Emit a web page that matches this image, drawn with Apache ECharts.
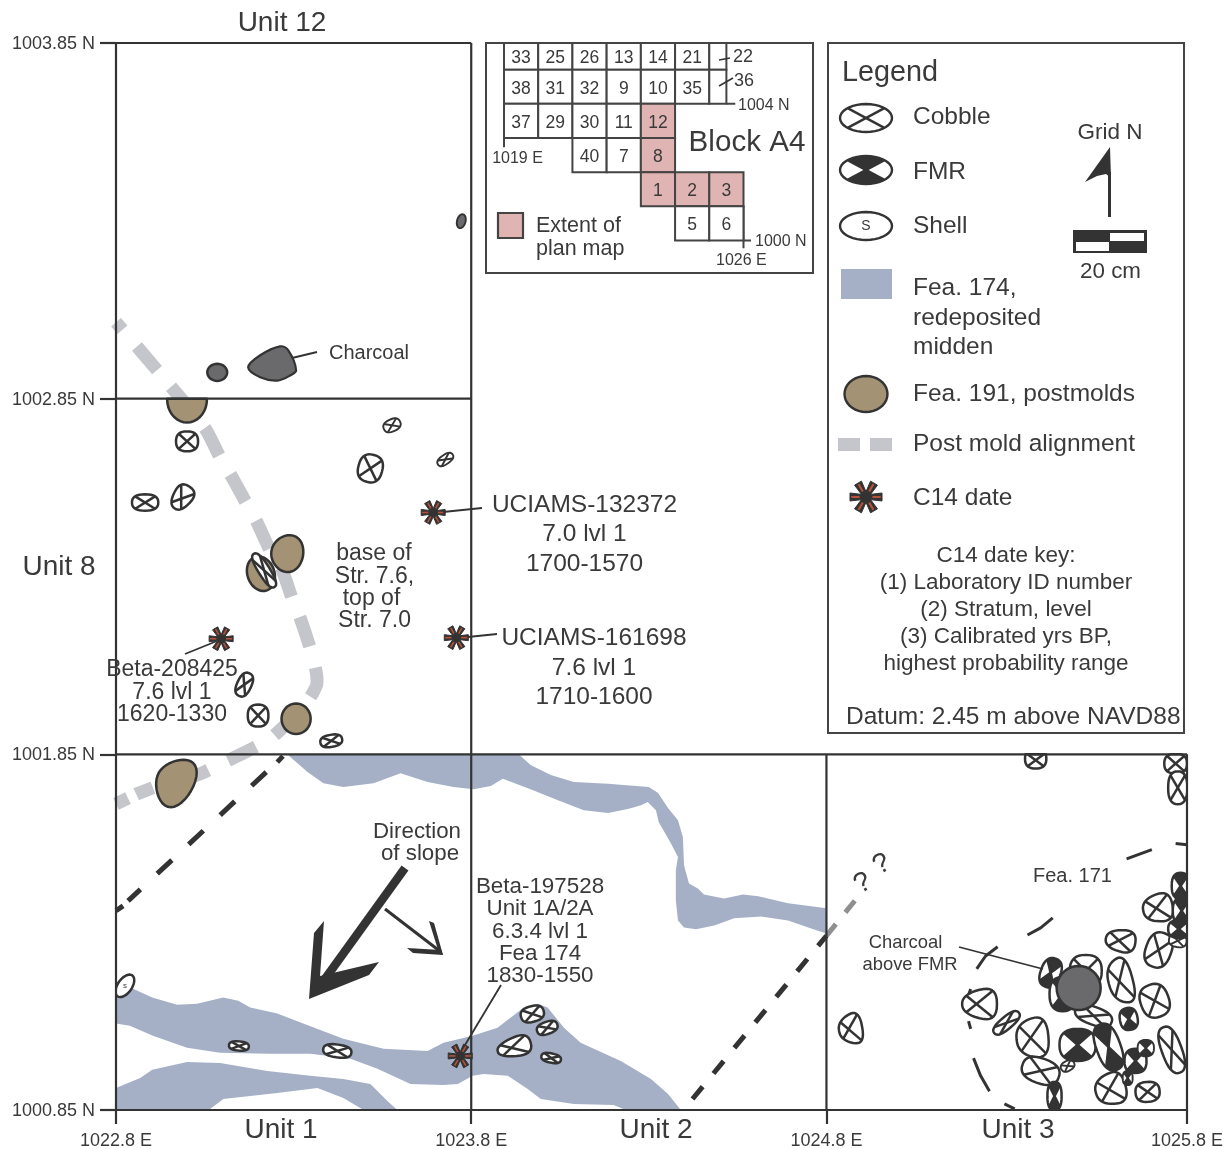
<!DOCTYPE html>
<html><head><meta charset="utf-8">
<style>html,body{margin:0;padding:0;background:#fff}#c{width:1231px;height:1149px}</style>
<script src="https://cdn.jsdelivr.net/npm/echarts@6/dist/echarts.min.js"></script>
</head><body><div id="c"></div>
<script>
// ---------- axis ticks ----------
var xTicks=[1022.8,1023.8,1024.8,1025.815];
var xTickLabels=['1022.8 E','1023.8 E','1024.8 E','1025.8 E'];
var yTicks=[1000.85,1001.85,1002.85,1003.85];
var yTickLabels=['1000.85 N','1001.85 N','1002.85 N','1003.85 N'];
// ---------- unit boundaries [E,N] ----------
var unitLines=[
 [[1022.8,1003.85],[1023.8,1003.85]],
 [[1022.8,1002.85],[1023.8,1002.85]],
 [[1022.8,1001.85],[1025.815,1001.85]],
 [[1022.8,1000.85],[1025.815,1000.85]],
 [[1022.8,1000.85],[1022.8,1003.85]],
 [[1023.8,1000.85],[1023.8,1003.85]],
 [[1024.8,1000.85],[1024.8,1001.85]],
 [[1025.815,1000.85],[1025.815,1001.85]]];
// ---------- Fea. 174 outlines [E,N] ----------
var fea174North=[[1023.282,1001.85],[1023.934,1001.85],[1023.967,1001.82],[1024.024,1001.792],[1024.089,1001.772],[1024.185,1001.767],[1024.30,1001.758],[1024.326,1001.741],[1024.354,1001.699],[1024.382,1001.665],[1024.396,1001.617],[1024.399,1001.538],[1024.413,1001.487],[1024.438,1001.473],[1024.455,1001.456],[1024.512,1001.445],[1024.565,1001.456],[1024.608,1001.451],[1024.692,1001.431],[1024.80,1001.417],[1024.80,1001.346],[1024.757,1001.36],[1024.692,1001.383],[1024.616,1001.394],[1024.54,1001.389],[1024.484,1001.369],[1024.433,1001.358],[1024.399,1001.363],[1024.382,1001.383],[1024.376,1001.439],[1024.376,1001.524],[1024.382,1001.561],[1024.362,1001.60],[1024.328,1001.659],[1024.32,1001.693],[1024.297,1001.716],[1024.278,1001.707],[1024.241,1001.696],[1024.185,1001.685],[1024.117,1001.693],[1024.044,1001.721],[1023.967,1001.752],[1023.889,1001.781],[1023.855,1001.761],[1023.807,1001.752],[1023.75,1001.758],[1023.677,1001.772],[1023.601,1001.797],[1023.525,1001.769],[1023.44,1001.758],[1023.384,1001.769],[1023.339,1001.80]];
var fea174South=[[1022.80,1001.163],[1022.848,1001.191],[1022.902,1001.166],[1022.972,1001.146],[1023.028,1001.149],[1023.102,1001.166],[1023.144,1001.157],[1023.178,1001.138],[1023.254,1001.121],[1023.327,1001.093],[1023.44,1001.05],[1023.553,1001.022],[1023.677,1001.016],[1023.722,1001.039],[1023.804,1001.059],[1023.874,1001.081],[1023.948,1001.138],[1023.987,1001.149],[1024.015,1001.138],[1024.061,1001.081],[1024.108,1001.039],[1024.221,1000.988],[1024.306,1000.937],[1024.354,1000.895],[1024.39,1000.85],[1024.235,1000.85],[1024.201,1000.864],[1024.089,1000.867],[1023.996,1000.881],[1023.959,1000.909],[1023.903,1000.946],[1023.835,1000.951],[1023.804,1000.946],[1023.762,1000.923],[1023.722,1000.92],[1023.629,1000.923],[1023.536,1000.966],[1023.46,1000.994],[1023.347,1001.008],[1023.234,1001.008],[1023.093,1001.011],[1023.0,1001.025],[1022.904,1001.059],[1022.839,1001.087],[1022.80,1001.093]];
var fea174Corner=[[1022.80,1000.912],[1022.868,1000.94],[1022.902,1000.963],[1023.0,1000.985],[1023.093,1000.982],[1023.226,1000.96],[1023.347,1000.946],[1023.44,1000.937],[1023.516,1000.923],[1023.564,1000.875],[1023.592,1000.85],[1023.497,1000.85],[1023.44,1000.884],[1023.367,1000.912],[1023.254,1000.898],[1023.102,1000.881],[1023.065,1000.853],[1022.80,1000.85]];
// ---------- post mold alignment and grid-line projections [E,N] ----------
var alignment=[[1022.80,1003.065],[1022.868,1002.986],[1022.952,1002.887],[1023.051,1002.766],[1023.093,1002.685],[1023.124,1002.634],[1023.166,1002.558],[1023.197,1002.502],[1023.234,1002.423],[1023.268,1002.367],[1023.296,1002.288],[1023.319,1002.232],[1023.347,1002.147],[1023.363,1002.085],[1023.366,1002.052],[1023.341,1002.001],[1023.31,1001.959],[1023.276,1001.931],[1023.234,1001.894],[1023.172,1001.86],[1023.101,1001.826],[1023.037,1001.795],[1022.972,1001.77]];
var alignmentTail=[[1022.904,1001.756],[1022.859,1001.739],[1022.80,1001.711]];
var wallWest=[[1023.223,1001.80],[1022.834,1001.438]];
var wallWestEnds=[[[1023.27,1001.845],[1023.254,1001.828]],[[1022.82,1001.424],[1022.80,1001.41]]];
var wallEast=[[1024.423,1000.881],[1024.80,1001.34]];
var wallEastInferred=[[1024.80,1001.34],[1024.887,1001.447]];
var fea171Arcs=[
 [[1025.645,1001.556],[1025.716,1001.582]],
 [[1025.783,1001.599],[1025.815,1001.596]],
 [[1025.366,1001.342],[1025.403,1001.362],[1025.437,1001.39]],
 [[1025.223,1001.247],[1025.248,1001.283],[1025.282,1001.309]],
 [[1025.206,1001.19],[1025.197,1001.165]],
 [[1025.2,1001.1],[1025.206,1001.078]],
 [[1025.214,1000.996],[1025.234,1000.946],[1025.259,1000.903]],
 [[1025.301,1000.867],[1025.33,1000.853]]];
// ---------- features: E, N, radius E (cm), radius N (cm), rotation deg, egg, cut N ----------
var postmolds=[
 [1023.0,1002.848,5.6,6.5,0,0,1002.85],
 [1023.282,1002.415,4.5,5.2,10,0.05,0],
 [1023.208,1002.358,3.8,5,-20,0,0],
 [1023.307,1001.95,4.1,4.3,0,0,0],
 [1022.966,1001.773,5.2,7,30,0.12,0]];
var charcoalBlob=[[1023.172,1002.938],[1023.206,1002.972],[1023.262,1002.997],[1023.285,1002.986],[1023.307,1002.93],[1023.29,1002.915],[1023.254,1002.901],[1023.206,1002.91]];
var charcoalSpots=[
 [1023.085,1002.924,2.8,2.4,0,0,0],
 [1023.772,1003.349,1.2,2,15,0,0]];
var charcoalOverFMR=[[1025.51,1001.193,6.2,6.2,0,0,0]];
var cobbles=[
 [1023.0,1002.73,3.1,2.8,0,0,0],[1023.577,1002.775,2.5,1.7,-25,0,0],[1023.516,1002.654,3.4,3.9,15,0,0],
 [1023.727,1002.679,2.5,1.3,-35,0,0],[1022.882,1002.558,3.7,2.3,0,0,0],[1022.986,1002.572,3.7,2.6,-55,0.1,0],
 [1023.217,1002.367,5.5,1.6,58,0,0],[1023.161,1002.046,3.5,2,-65,0,0],[1023.2,1001.959,2.9,3.1,0,0,0],
 [1023.406,1001.888,3.1,1.7,-10,0,0],[1023.146,1001.03,2.8,1.3,5,0,0],[1023.423,1001.016,4,1.8,8,0,0],
 [1023.972,1001.12,3.3,2.2,-15,0,0],[1024.014,1001.081,3,1.7,-20,0,0],[1023.921,1001.027,4.8,2.6,-15,0.15,0],
 [1024.025,1000.996,2.8,1.3,12,0,0],[1024.868,1001.078,3.3,4,-10,0.15,0],
 [1025.733,1001.418,4.2,3.8,-10,0.1,0],[1025.628,1001.326,4.2,3,8,0.1,0],[1025.735,1001.3,3.6,5,20,0,0],
 [1025.628,1001.213,3.4,6.2,-15,0.1,0],[1025.724,1001.157,4,4.7,-20,0,0],[1025.772,1001.019,2.8,6.8,-20,0,0],
 [1025.231,1001.148,4.9,4,0,0.15,0],[1025.307,1001.095,4.5,1.7,-40,0,0],[1025.38,1001.053,4.5,5.4,-5,0.1,0],
 [1025.403,1000.96,5.4,3.5,20,0,0],[1025.479,1000.974,2,1.4,-30,0,0],[1025.6,1000.909,4.3,4.3,-15,0.1,0],
 [1025.704,1000.901,3.4,2.8,-5,0,0],[1025.53,1001.241,4.5,4.5,0,0,0],[1025.552,1001.115,5.4,2.5,20,0,0],
 [1025.789,1001.326,2.5,1.8,10,0,0],[1025.389,1001.838,3,2.8,0,0,1001.85],[1025.783,1001.824,3.2,2.8,0,0,1001.85],
 [1025.789,1001.756,2.7,4.6,0,0,1001.85]];
var fmrStones=[
 [1025.651,1001.106,2.5,3.1,-10,0,0],[1025.507,1001.033,5.1,4.5,0,0,0],[1025.594,1001.027,3.4,6.8,-20,0,0],
 [1025.67,1000.988,3.1,3.4,0,0,0],[1025.699,1001.024,2.3,2.3,0,0,0],[1025.648,1000.94,1.4,2,0,0,0],
 [1025.442,1000.889,2,4,0,0,0],[1025.431,1001.236,2.8,4.2,20,0,0],[1025.465,1001.176,3.7,4.8,0,0,0],
 [1025.797,1001.48,2.5,3.7,0,0,0],[1025.8,1001.41,2.5,3.7,0,0,0],[1025.792,1001.359,3,2.5,0,0,0]];
var shells=[[1022.825,1001.199,3.6,2,-55,0,0]];
var c14Dates=[[1023.693,1002.53],[1023.758,1002.178],[1023.096,1002.175],[1023.769,1001.002]];
// ---------- Block A4 inset: label, E, N, width, height ----------
var blockCells=[
 ['33',1019,1005,1,.78],['25',1020,1005,1,.78],['26',1021,1005,1,.78],['13',1022,1005,1,.78],['14',1023,1005,1,.78],['21',1024,1005,1,.78],['',1025,1005,.5,.78],
 ['38',1019,1004,1,1],['31',1020,1004,1,1],['32',1021,1004,1,1],['9',1022,1004,1,1],['10',1023,1004,1,1],['35',1024,1004,1,1],['',1025,1004,.5,1],
 ['37',1019,1003,1,1],['29',1020,1003,1,1],['30',1021,1003,1,1],['11',1022,1003,1,1],['12',1023,1003,1,1],
 ['40',1021,1002,1,1],['7',1022,1002,1,1],['8',1023,1002,1,1],
 ['1',1023,1001,1,1],['2',1024,1001,1,1],['3',1025,1001,1,1],
 ['5',1024,1000,1,1],['6',1025,1000,1,1]];
var planMapCells=['12','8','1','2','3'];
var blockGuides=[
 [[1019,1003],[1019,1002.73]],[[1026,1001],[1026,999.77]],[[1026,1000],[1026.22,1000]],[[1025.5,1004],[1025.76,1004]]];
// ---------- text ----------
var unitNames=['Unit 12','Unit 8','Unit 1','Unit 2','Unit 3'];
var dateA=['UCIAMS-132372','7.0 lvl 1','1700-1570'];
var dateB=['UCIAMS-161698','7.6 lvl 1','1710-1600'];
var dateC=['Beta-208425','7.6 lvl 1','1620-1330'];
var dateD=['Beta-197528','Unit 1A/2A','6.3.4 lvl 1','Fea 174','1830-1550'];
var baseNote=['base of','Str. 7.6,','top of','Str. 7.0'];
var slopeNote=['Direction','of slope'];
var fmrNote=['Charcoal','above FMR'];
var legendKey=['C14 date key:','(1) Laboratory ID number','(2) Stratum, level','(3) Calibrated yrs BP,','highest probability range'];

var INK='#3a3a3a',LINE='#333333',BLUE='#a5b0c6',BROWN='#a39274',CHAR='#6a6a6d',GREY='#c4c6cb',PINK='#e0b4b2',RED='#b8533a',FONT='"Liberation Sans",Arial,sans-serif';

var POW=1;
function sp(v){return (v<0?-1:1)*Math.pow(Math.abs(v),POW);}
function outlinePoint(cx,cy,rx,ry,rot,egg,deg,cutY){
  var t=deg*Math.PI/180,a=rot*Math.PI/180;
  var ct=sp(Math.cos(t)),st=sp(Math.sin(t));
  var px=rx*ct,py=ry*st*(1+egg*ct*2);
  var x=cx+px*Math.cos(a)-py*Math.sin(a),y=cy+px*Math.sin(a)+py*Math.cos(a);
  if(cutY&&y<cutY)y=cutY;
  return [x,y];
}
function feature(cx,cy,rx,ry,rot,egg,kind,cutY,lw){
  var out=[],pts=[],i;
  POW=(!lw&&(kind==='cobble'||kind==='fmr'))?0.8:1;
  for(i=0;i<36;i++)pts.push(outlinePoint(cx,cy,rx,ry,rot,egg,i*10,cutY));
  var fill=kind==='post'?BROWN:kind==='char'?CHAR:'#fff';
  lw=lw||(rx>9||ry>9?2.5:1.9);
  out.push({type:'polygon',silent:true,shape:{points:pts},style:{fill:fill,stroke:null}});
  if(kind==='fmr'){
    [[45,135],[225,315]].forEach(function(r){
      var w=[[cx,cy]];
      for(var d=r[0];d<=r[1];d+=10)w.push(outlinePoint(cx,cy,rx,ry,rot,egg,d,cutY));
      out.push({type:'polygon',silent:true,shape:{points:w},style:{fill:LINE,stroke:null}});
    });
  }
  if(kind==='cobble'||kind==='fmr'){
    [[45,225],[135,315]].forEach(function(r){
      out.push({type:'polyline',silent:true,shape:{points:[outlinePoint(cx,cy,rx,ry,rot,egg,r[0],cutY),outlinePoint(cx,cy,rx,ry,rot,egg,r[1],cutY)]},style:{stroke:LINE,lineWidth:lw,fill:null}});
    });
  }
  out.push({type:'polygon',silent:true,shape:{points:pts},style:{fill:null,stroke:LINE,lineWidth:lw}});
  return out;
}
function featureSeries(name,rows,kind,z){
  return {name:name,type:'custom',coordinateSystem:'cartesian2d',xAxisIndex:0,yAxisIndex:0,z:z,silent:true,clip:true,
    data:rows,encode:{x:0,y:1},
    renderItem:function(p,api){
      var E=api.value(0),N=api.value(1),c=api.coord([E,N]);
      var rx=api.coord([E+api.value(2)/100,N])[0]-c[0],ry=c[1]-api.coord([E,N+api.value(3)/100])[1];
      var cut=api.value(6)?api.coord([E,api.value(6)])[1]:0;
      var kids=feature(c[0],c[1],rx,ry,api.value(4),api.value(5),kind,cut);
      if(kind==='shell')kids.push({type:'text',silent:true,style:{text:'s',x:c[0],y:c[1],align:'center',verticalAlign:'middle',font:'8px '+FONT,fill:INK}});
      return {type:'group',children:kids};
    }};
}
function polySeries(name,pts,fill,stroke,z,smooth){
  return {name:name,type:'custom',coordinateSystem:'cartesian2d',xAxisIndex:0,yAxisIndex:0,z:z,silent:true,clip:true,
    data:[pts[0]],encode:{x:0,y:1},
    renderItem:function(p,api){
      return {type:'polygon',silent:true,shape:{points:pts.map(function(q){return api.coord(q);}),smooth:smooth||0},style:{fill:fill,stroke:stroke,lineWidth:stroke?2.2:0}};
    }};
}
function lineSeries(name,pts,color,width,z,dash,offset,clip,smooth){
  return {name:name,type:'line',xAxisIndex:0,yAxisIndex:0,data:pts,z:z,showSymbol:false,symbol:'none',silent:true,clip:!!clip,animation:false,smooth:smooth||false,
    lineStyle:{color:color,width:width,type:dash||'solid',dashOffset:offset||0,cap:'butt'},emphasis:{disabled:true}};
}
function starParts(cx,cy,r){
  var parts=[],w0=r*0.13,w1=r*0.25;
  [0,60,120,180,240,300].forEach(function(d){
    var a=d*Math.PI/180,ca=Math.cos(a),sa=Math.sin(a);
    parts.push({type:'polygon',silent:true,shape:{points:[[cx-w0*sa,cy+w0*ca],[cx+r*ca-w1*sa,cy+r*sa+w1*ca],[cx+r*ca+w1*sa,cy+r*sa-w1*ca],[cx+w0*sa,cy-w0*ca]]},style:{fill:LINE,stroke:LINE,lineWidth:1}});
  });
  [0,60,120,180,240,300].forEach(function(d){
    var a=d*Math.PI/180,ca=Math.cos(a),sa=Math.sin(a);
    parts.push({type:'line',silent:true,shape:{x1:cx+r*.4*ca,y1:cy+r*.4*sa,x2:cx+r*.92*ca,y2:cy+r*.92*sa},style:{stroke:RED,lineWidth:r*0.13}});
  });
  return parts;
}

var series=[];
series.push(polySeries('Fea. 174 north',fea174North,BLUE,null,1));
series.push(polySeries('Fea. 174 south',fea174South,BLUE,null,1));
series.push(polySeries('Fea. 174 corner',fea174Corner,BLUE,null,1));
series.push(lineSeries('Post mold alignment',alignment,GREY,13,2,[31,22],21,true,0.25));
series.push(lineSeries('Post mold alignment tail',alignmentTail,GREY,13,2,[18,9],0,true));
series.push(lineSeries('West wall',wallWest,LINE,5,2,[20,23],0));
wallWestEnds.forEach(function(a,i){series.push(lineSeries('West wall end '+i,a,LINE,5,2));});
series.push(lineSeries('East wall',wallEast,LINE,5,2,[16,17],0));
series.push(lineSeries('East wall inferred',wallEastInferred,'#8f8f8f',5,2,[15,15],0));
fea171Arcs.forEach(function(a,i){series.push(lineSeries('Fea. 171 '+i,a,LINE,3,2));});
series.push(featureSeries('Postmolds',postmolds,'post',3));
series.push(polySeries('Charcoal',charcoalBlob,CHAR,LINE,3,0.35));
series.push(featureSeries('Charcoal spots',charcoalSpots,'char',3));
series.push(featureSeries('Cobble',cobbles,'cobble',4));
series.push(featureSeries('FMR',fmrStones,'fmr',4));
series.push(featureSeries('Shell',shells,'shell',4));
series.push(featureSeries('Charcoal above FMR',charcoalOverFMR,'char',5));
unitLines.forEach(function(a,i){series.push(lineSeries('Unit line '+i,a,LINE,2.2,6));});
series.push({name:'C14 date',type:'custom',coordinateSystem:'cartesian2d',xAxisIndex:0,yAxisIndex:0,z:7,silent:true,clip:false,data:c14Dates,encode:{x:0,y:1},
  renderItem:function(p,api){var c=api.coord([api.value(0),api.value(1)]);return {type:'group',children:starParts(c[0],c[1],12)};}});
// inset
series.push({name:'Block A4 units',type:'custom',coordinateSystem:'cartesian2d',xAxisIndex:1,yAxisIndex:1,z:3,silent:true,clip:false,
  data:blockCells,encode:{x:1,y:2},
  renderItem:function(p,api){
    var lab=blockCells[p.dataIndex][0],e=api.value(1),n=api.value(2),w=api.value(3),h=api.value(4);
    var a=api.coord([e,n+h]),b=api.coord([e+w,n]);
    return {type:'group',children:[
      {type:'rect',silent:true,shape:{x:a[0],y:a[1],width:b[0]-a[0],height:b[1]-a[1]},style:{fill:planMapCells.indexOf(lab)>=0?PINK:'#fff',stroke:'#444',lineWidth:2}},
      {type:'text',silent:true,style:{text:lab,x:(a[0]+b[0])/2,y:(a[1]+b[1])/2+2,align:'center',verticalAlign:'middle',font:'17.5px '+FONT,fill:INK}}]};
  }});
blockGuides.forEach(function(g,i){series.push({name:'Block guide '+i,type:'line',xAxisIndex:1,yAxisIndex:1,data:g,z:2,symbol:'none',silent:true,clip:false,lineStyle:{color:'#444',width:2}});});

// annotation layer
var g=[];
function T(s,x,y,size,align,rot,fam){
  var o={type:'text',silent:true,x:x,y:y+1.5,z:20,style:{text:s,x:0,y:0,align:align||'center',verticalAlign:'middle',textAlign:align||'center',textVerticalAlign:'middle',font:size+'px '+(fam||FONT),fill:INK}};
  if(rot){o.rotation=rot;}
  g.push(o);
}
function L(x1,y1,x2,y2,w,c){g.push({type:'line',silent:true,z:20,shape:{x1:x1,y1:y1,x2:x2,y2:y2},style:{stroke:c||LINE,lineWidth:w||1.8}});}
function P(pts,fill){g.push({type:'polygon',silent:true,z:20,shape:{points:pts},style:{fill:fill||LINE}});}
function B(x,y,w,h,fill,stroke,lw){g.push({type:'rect',silent:true,z:20,shape:{x:x,y:y,width:w,height:h},style:{fill:fill,stroke:stroke||null,lineWidth:lw||0}});}
function add(list){list.forEach(function(o){o.z=20;g.push(o);});}
function stack(lines,x,ys,size,align){lines.forEach(function(s,i){T(s,Array.isArray(x)?x[i]:x,ys[i],size,align);});}

T(unitNames[0],282,22,28);T(unitNames[1],59,566,28);T(unitNames[2],281,1129,28);T(unitNames[3],656,1129,28);T(unitNames[4],1018,1129,28);
stack(dateA,584.5,[504,533,563],24.5);L(443,512,482,508);
stack(dateB,594,[637,667,696],24.5);L(468,637,497,634);
stack(dateC,172,[668,691,713],23);L(185,654,217,641);
stack(dateD,540,[885,907,930,952,974],22.4);L(501,985,465,1045);
stack(baseNote,[374,374.5,371.5,374.5],[552,575,597,619],23);
T(slopeNote[0],417,830,22.3);T(slopeNote[1],420,852,22.3);
T('Charcoal',329,352,20,'left');L(292,358,317,352);
stack(fmrNote,[905.5,910],[941,963],18.4);L(959,947,1043,969);
T('Fea. 171',1033,875,20,'left');
// direction arrows
L(405,868,317,990,8.5);
P([[309,999],[314,933],[324,921],[320,976],[379,962],[369,975]]);
L(385,909,441,952,3);
P([[429,921],[434,923],[443,955],[439,953]]);
P([[407,948],[413,953],[443,955],[441,950]]);
// question marks
T('?',863,882,28,'center',0.5);T('?',882,863,28,'center',0.5);

// inset frame + text
g.push({type:'rect',silent:true,z:0,shape:{x:486,y:43,width:327,height:230},style:{fill:'#fff',stroke:'#444',lineWidth:2}});
T('Block A4',747,141,29.6);
T('1019 E',517.5,157,16);T('1004 N',738,104,16,'left');T('1000 N',755,240,16,'left');T('1026 E',716,259,16,'left');
T('22',733,56,18,'left');T('36',734,80,18,'left');
L(719,60,730,58,1.6);L(719,86,733,78,1.6);
B(498,213,25,25,PINK,'#444',2.2);
T('Extent of',536,225,21.5,'left');T('plan map',536,248,21.5,'left');

// legend
g.push({type:'rect',silent:true,z:0,shape:{x:828,y:43,width:356,height:690},style:{fill:'#fff',stroke:'#444',lineWidth:2}});
T('Legend',842,72,28.8,'left');
add(feature(866,118,26,14,0,0,'cobble',0,2.4));T('Cobble',913,116,24.5,'left');
add(feature(866,170,26,14,0,0,'fmr',0,2.4));T('FMR',913,171,24.5,'left');
add(feature(866,226,26,14,0,0,'shell',0,2.4));T('S',866,225,14);T('Shell',913,225,24.5,'left');
B(841,269,51,30,BLUE);T('Fea. 174,',913,287,24.5,'left');T('redeposited',913,317,24.5,'left');T('midden',913,346,24.5,'left');
add(feature(866,394,21.5,18,0,0,'post',0,2.4));T('Fea. 191, postmolds',913,393,24.5,'left');
B(838,438,22,13,GREY);B(870,438,22,13,GREY);T('Post mold alignment',913,443,24.5,'left');
add(starParts(866,497,16));T('C14 date',913,497,24.5,'left');
stack(legendKey,1006,[554,581,608,635,662],22.5);
T('Datum: 2.45 m above NAVD88',846,716,24.5,'left');
T('Grid N',1110,131,22.5);
L(1109.5,172,1109.5,217,3);
P([[1110,147],[1085,182],[1097,176],[1106,174],[1111,178]]);
B(1073,230,74,23,LINE);B(1110,233,34,8,'#fff');B(1076,242,33,9,'#fff');
T('20 cm',1110.5,270,22.4);

var chart=echarts.init(document.getElementById('c'),null,{renderer:'canvas'});
chart.setOption({
  animation:false,backgroundColor:'#fff',
  grid:[{left:116,top:43,width:1071,height:1067,outerBoundsMode:'none'},{left:504,top:43,width:256.6,height:214.6,outerBoundsMode:'none'}],
  xAxis:[
   {gridIndex:0,type:'value',min:1022.8,max:1025.815,splitLine:{show:false},axisLine:{show:false},
    axisTick:{show:true,length:14,customValues:xTicks,lineStyle:{color:LINE,width:2.2}},
    axisLabel:{show:true,customValues:xTicks,margin:22,color:INK,fontSize:18,fontFamily:FONT,hideOverlap:false,showMinLabel:true,showMaxLabel:true,
      formatter:function(v){return xTickLabels[xTicks.indexOf(v)];}}},
   {gridIndex:1,type:'value',min:1019,max:1026.5,show:false}],
  yAxis:[
   {gridIndex:0,type:'value',min:1000.85,max:1003.85,splitLine:{show:false},axisLine:{show:false},
    axisTick:{show:true,length:16,customValues:yTicks,lineStyle:{color:LINE,width:2.2}},
    axisLabel:{show:true,customValues:yTicks,margin:21,verticalAlign:'top',lineHeight:2,color:INK,fontSize:18,fontFamily:FONT,hideOverlap:false,showMinLabel:true,showMaxLabel:true,
      formatter:function(v){return yTickLabels[yTicks.indexOf(v)];}}},
   {gridIndex:1,type:'value',min:999.5,max:1005.78,show:false}],
  series:series,
  graphic:{elements:g}
});
</script></body></html>
